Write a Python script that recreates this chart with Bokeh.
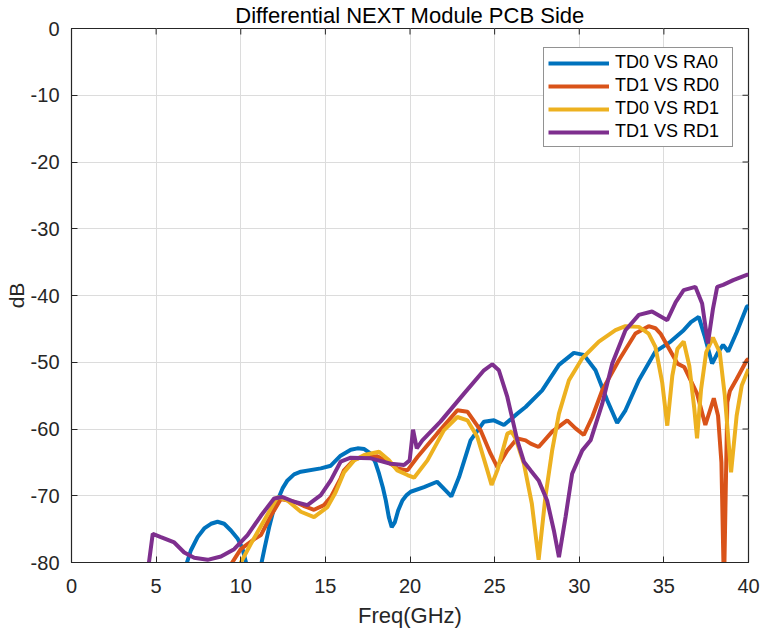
from bokeh.plotting import figure
from bokeh.models import SingleIntervalTicker, Range1d, CustomJSTickFormatter
from bokeh.embed import file_html
from bokeh.resources import INLINE

nan = float("nan")

# TD0 VS RA0
f_blue = [6.76, 7.05, 7.45, 7.84, 8.24, 8.63, 9.02, 9.42, 9.81, 10.1, 10.36, nan,
          11.19, 11.42, 11.68, 11.91, 12.17, 12.47, 12.76, 13.15, 13.55, 14.73, 15.32, 15.9,
          16.5, 16.9, 17.3, 17.68, 17.95, 18.17, 18.4, 18.57, 18.75, 18.92, 19.1, 19.3, 19.55,
          19.8, 20.04, 20.83, 21.6, 22.1, 22.44, 22.9, 23.58,
          24.37, 24.96, 25.55, 26.34, 26.83, 27.81, 28.8, 29.68, 30.27, 30.96, 31.65,
          32.24, 32.73, 33.52, 34.5, 35.4, 36.17, 36.6, 37.06, 37.4, 37.85, 38.2, 38.5,
          38.8, 39.3, 39.9, 40.0]
db_blue = [-80.5, -78.2, -76.2, -74.9, -74.2, -73.9, -74.2, -75.2, -76.4, -77.9, -80.5, nan,
           -80.5, -77.7, -74.7, -72.4, -70.7, -68.9, -67.7, -66.8, -66.4, -65.9, -65.5, -64.0,
           -63.1, -62.9, -63.0, -63.7, -65.0, -66.7, -68.8, -70.7, -73.2, -74.7, -74.0, -72.2, -70.7,
           -69.9, -69.4, -68.7, -67.9, -69.2, -70.1, -67.2, -61.7,
           -58.9, -58.7, -59.4, -57.7, -56.7, -54.2, -50.4, -48.6, -48.9, -51.2, -55.7,
           -59.1, -57.2, -52.7, -48.4, -46.9, -45.2, -44.0, -43.2, -46.0, -50.2, -48.5, -47.4,
           -48.4, -45.5, -41.7, -41.5]

# TD1 VS RD0
f_red = [9.37, 10.0, 10.8, 11.19, 11.78, 12.37, 13.15, 13.7, 14.33, 14.92, 15.32, 15.9,
         16.1, 16.7, 17.09, 18.07, 18.66, 19.25, 19.85, 20.44, 21.6, 22.8, 23.39, 24.17,
         24.76, 25.16, 25.75, 26.34, 26.83, 27.13, 27.6, 28.4, 29.29, 29.78, 30.27, 30.77,
         31.36, 32.34, 33.32, 34.1, 34.5, 34.8, 35.8, 36.2, 36.96, 37.45, 37.95, 38.2,
         38.4, 38.55, 38.65, 38.75, 38.9, 39.3, 39.9, 40.0]
db_red = [-80.5, -78.0, -76.5, -75.9, -73.0, -70.5, -70.9, -71.5, -72.1, -71.4, -70.2, -67.4,
          -66.2, -64.6, -64.3, -64.1, -64.9, -65.9, -66.2, -64.2, -60.7, -57.2, -57.4, -60.2,
          -63.7, -65.7, -63.2, -61.4, -61.7, -62.2, -62.7, -60.4, -58.7, -59.9, -60.9, -58.2,
          -54.2, -49.7, -45.7, -44.6, -44.9, -45.7, -50.2, -50.7, -54.7, -59.4, -55.4, -58.0,
          -65.0, -84.0, -70.0, -56.0, -54.3, -52.5, -49.7, -49.5]

# TD0 VS RD1
f_yel = [9.9, 10.6, 11.38, 12.17, 12.76, 13.55, 14.33, 15.12, 15.6, 16.1, 16.7, 17.3, 18.17,
         18.76, 19.25, 19.85, 20.24, 21.03, 22.0, 22.8, 23.39, 23.98, 24.57, 24.82, 25.16,
         25.75, 26.0, 26.24, 26.73, 27.2, 27.6, 28.0, 28.4, 28.8, 29.39, 30.18, 31.16, 32.14,
         32.73, 33.52, 34.1, 34.5, 34.9, 35.2, 35.5, 35.8, 36.17, 36.5, 36.8, 36.96, 37.2,
         37.5, 37.9, 38.3, 38.6, 38.97, 39.3, 39.6, 40.0]
db_yel = [-80.5, -77.2, -73.7, -70.2, -70.7, -72.4, -73.2, -71.7, -69.5, -66.5, -64.7, -63.9, -63.4,
          -64.7, -66.2, -66.9, -67.3, -64.7, -60.2, -58.2, -58.7, -61.2, -66.2, -68.4, -66.2,
          -60.7, -60.4, -61.4, -65.2, -71.2, -79.6, -70.2, -63.2, -57.7, -52.7, -49.4, -46.9, -45.2,
          -44.6, -44.7, -45.7, -47.7, -53.0, -59.5, -52.0, -48.0, -46.9, -50.5, -57.0, -61.4, -54.0,
          -48.5, -46.3, -48.5, -55.0, -66.5, -58.0, -53.5, -51.0]

# TD1 VS RD1
f_pur = [4.55, 4.8, 5.28, 6.07, 6.66, 7.25, 8.04, 8.83, 9.61, 10.4, 11.19, 11.97, 12.47,
         13.15, 13.94, 14.73, 15.32, 15.9, 16.5, 17.68, 18.86, 19.65, 19.98, 20.18, 20.4,
         20.73, 21.8, 23.19, 24.37, 24.86, 25.25, 25.75, 26.34, 26.73, 27.13, 27.6, 28.1,
         28.5, 28.8, 29.19, 29.58, 30.18, 30.67, 31.36, 31.95, 32.73, 33.52, 34.3, 35.2,
         35.7, 36.17, 36.86, 37.26, 37.6, 37.9, 38.15, 38.5, 39.1, 39.9, 40.0]
db_pur = [-80.5, -75.7, -76.2, -77.0, -78.5, -79.3, -79.6, -79.1, -78.0, -75.9, -73.0, -70.4, -70.2,
          -70.9, -71.4, -69.9, -67.7, -64.9, -64.3, -64.4, -65.2, -65.4, -64.7, -60.1, -62.9,
          -61.7, -58.9, -54.7, -51.2, -50.3, -51.2, -55.2, -61.7, -64.9, -66.2, -67.7, -70.7,
          -75.2, -79.2, -73.2, -66.7, -63.2, -61.7, -56.2, -50.2, -45.2, -42.9, -42.4, -43.7,
          -41.0, -39.2, -38.7, -41.2, -47.2, -42.0, -38.7, -38.4, -37.7, -36.9, -36.9]

labels = ["TD0 VS RA0", "TD1 VS RD0", "TD0 VS RD1", "TD1 VS RD1"]
colors = ["#0072BD", "#D95319", "#EDB120", "#7E2F8E"]
title_text = "Differential NEXT Module PCB Side"
x_label = "Freq(GHz)"
y_label = "dB"
x_ticks = [0, 5, 10, 15, 20, 25, 30, 35, 40]
y_ticks = [-80, -70, -60, -50, -40, -30, -20, -10, 0]

FONT = "Liberation Sans"
AX = "#262626"
X0, X1, Y0, Y1 = 0, 40, -80, 0
FW, FH = 677, 534

p = figure(frame_width=FW, frame_height=FH, output_backend="svg", toolbar_location=None,
           x_range=Range1d(X0, X1), y_range=Range1d(Y0, Y1),
           min_border_left=71, min_border_top=28, min_border_right=14, min_border_bottom=68,
           title=title_text)
p.background_fill_color = "white"
p.border_fill_color = "white"
p.outline_line_color = AX
p.outline_line_width = 1.2

p.title.text_font = FONT
p.title.text_font_size = "22px"
p.title.text_font_style = "normal"
p.title.text_color = "black"
p.title.align = "center"
p.title.standoff = 1

series = [(f_blue, db_blue), (f_red, db_red), (f_yel, db_yel), (f_pur, db_pur)]
for (fx, dy), lab, c in zip(series, labels, colors):
    p.line(fx, dy, line_color=c, line_width=4, legend_label=lab)

fmt = CustomJSTickFormatter(code="return tick.toFixed(0);")
for ax in (p.xaxis[0], p.yaxis[0]):
    ax.axis_line_color = AX
    ax.major_tick_line_color = AX
    ax.major_tick_in = 6
    ax.major_tick_out = 0
    ax.minor_tick_line_color = None
    ax.major_label_text_font = FONT
    ax.major_label_text_font_size = "20px"
    ax.major_label_text_color = AX
    ax.axis_label_text_font = FONT
    ax.axis_label_text_font_size = "22px"
    ax.axis_label_text_font_style = "normal"
    ax.axis_label_text_color = AX
    ax.formatter = fmt

p.xaxis[0].ticker = SingleIntervalTicker(interval=5)
p.yaxis[0].ticker = SingleIntervalTicker(interval=10)
p.xaxis[0].axis_label = x_label
p.yaxis[0].axis_label = y_label
p.yaxis[0].axis_label_text_font_size = "21px"
p.xaxis[0].major_label_standoff = 12
p.xaxis[0].axis_label_standoff = 7
p.yaxis[0].major_label_standoff = 8
p.yaxis[0].axis_label_standoff = 0

# inward ticks on the top and right edges of the box
tick_px = 6
dy_top = tick_px * (Y1 - Y0) / FH
dx_right = tick_px * (X1 - X0) / FW
p.segment(x0=x_ticks, y0=[Y1] * len(x_ticks), x1=x_ticks, y1=[Y1 - dy_top] * len(x_ticks),
          line_color=AX, line_width=1)
p.segment(x0=[X1] * len(y_ticks), y0=y_ticks, x1=[X1 - dx_right] * len(y_ticks), y1=y_ticks,
          line_color=AX, line_width=1)

p.xgrid.grid_line_color = "#dcdcdc"
p.ygrid.grid_line_color = "#dcdcdc"
p.xgrid.ticker = SingleIntervalTicker(interval=5)
p.ygrid.ticker = SingleIntervalTicker(interval=10)

lg = p.legend[0]
lg.location = (472, 415)
lg.label_text_font = FONT
lg.label_text_font_size = "18px"
lg.label_text_color = "black"
lg.border_line_color = AX
lg.border_line_width = 1
lg.background_fill_color = "white"
lg.background_fill_alpha = 1
lg.glyph_width = 61
lg.glyph_height = 18
lg.label_height = 18
lg.label_width = 113
lg.label_standoff = 6
lg.spacing = 2
lg.padding = 4
lg.margin = 0

open("out.html", "w").write(file_html(p, INLINE))
